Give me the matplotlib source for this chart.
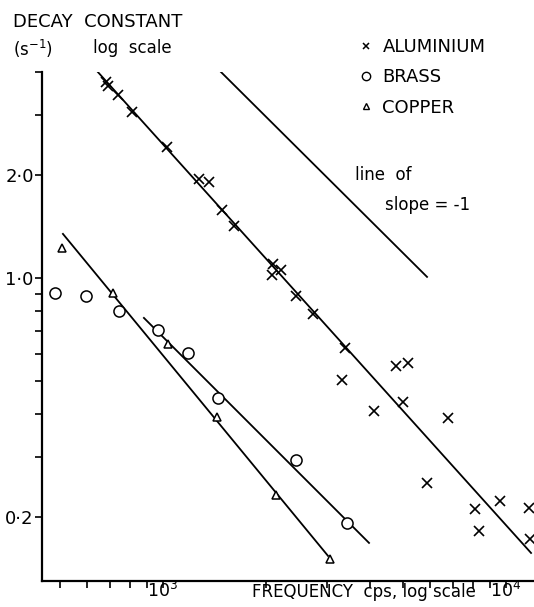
import matplotlib
matplotlib.use("Agg")
import matplotlib.pyplot as plt
from matplotlib.lines import Line2D

plt.rcParams['font.family'] = ['DejaVu Sans']

# ---- data (frequency in cps, decay constant in s^-1) ----
al_freq = [680, 690, 740, 810, 1030, 1270, 1360, 1490, 1610, 2090, 2210, 2080,
           2440, 2740, 3390, 3330, 4120, 4780, 5180, 5010, 5890, 6780, 8120,
           8340, 9600, 11700, 11750]
al_decay = [3.74, 3.64, 3.43, 3.06, 2.42, 1.95, 1.91, 1.58, 1.42, 1.10, 1.055, 1.02,
            0.886, 0.785, 0.624, 0.503, 0.409, 0.553, 0.564, 0.434, 0.252, 0.390, 0.211,
            0.182, 0.223, 0.213, 0.1725]

br_freq = [484, 596, 744, 967, 1183, 1447, 2442, 3439]
br_decay = [0.904, 0.886, 0.801, 0.705, 0.604, 0.446, 0.294, 0.192]

cu_freq = [508, 715, 1034, 1437, 2135, 3069]
cu_decay = [1.224, 0.904, 0.641, 0.392, 0.232, 0.151]

# fitted lines (end points)
al_fit_freq = [646, 11830]
al_fit_decay = [4.00, 0.157]
br_fit_freq = [880, 3987]
br_fit_decay = [0.764, 0.168]
cu_fit_freq = [511, 3027]
cu_fit_decay = [1.345, 0.154]
ref_freq = [1476, 5885]
ref_decay = [4.00, 1.007]

x_major = [1000, 10000]
x_major_labels = ['$\\mathregular{10^3}$', '$\\mathregular{10^4}$']
x_minor = [500, 600, 700, 800, 900, 2000, 3000, 4000, 5000, 6000, 7000, 8000, 9000]
y_major = [0.2, 1.0, 2.0]
y_major_labels = ['0·2', '1·0', '2·0']
y_minor = [0.3, 0.4, 0.5, 0.6, 0.7, 0.8, 0.9, 3.0, 4.0]

# ---- figure ----
W, H = 534, 607
fig = plt.figure(figsize=(W / 100, H / 100), dpi=100)
ax = fig.add_axes([42 / W, 26 / H, 492 / W, 509 / H])
ax.set_xscale('log')
ax.set_yscale('log')
ax.set_xlim(444, 12066)
ax.set_ylim(0.130, 4.0)

lw = 1.3
ax.plot(al_fit_freq, al_fit_decay, color='black', lw=lw)
ax.plot(br_fit_freq, br_fit_decay, color='black', lw=lw)
ax.plot(cu_fit_freq, cu_fit_decay, color='black', lw=lw)
ax.plot(ref_freq, ref_decay, color='black', lw=lw)

ax.plot(al_freq, al_decay, linestyle='none', marker='x', ms=7, mew=1.2,
        color='black', clip_on=False)
ax.plot(br_freq, br_decay, linestyle='none', marker='o', ms=8, mew=1.1,
        mfc='white', mec='black', clip_on=False)
ax.plot(cu_freq, cu_decay, linestyle='none', marker='^', ms=6, mew=1.1,
        mfc='white', mec='black', clip_on=False)

# spines
for s in ['top', 'right']:
    ax.spines[s].set_visible(False)
for s in ['left', 'bottom']:
    ax.spines[s].set_linewidth(1.6)

# ticks
ax.set_xticks(x_major, x_major_labels)
ax.set_xticks(x_minor, minor=True)
ax.set_xticklabels([], minor=True)
ax.set_yticks(y_major, y_major_labels)
ax.set_yticks(y_minor, minor=True)
ax.set_yticklabels([], minor=True)
ax.tick_params(axis='both', which='both', direction='out', length=5, width=1.2,
               colors='black', labelsize=13)
ax.tick_params(axis='x', which='major', pad=-5, labelsize=12.5)
ax.tick_params(axis='y', which='major', pad=1)

# legend
handles = [
    Line2D([], [], linestyle='none', marker='x', ms=5, mew=1.1, color='black'),
    Line2D([], [], linestyle='none', marker='o', ms=6, mew=1.0, mfc='white', mec='black'),
    Line2D([], [], linestyle='none', marker='^', ms=5, mew=1.0, mfc='white', mec='black'),
]
ax.legend(handles, ['ALUMINIUM', 'BRASS', 'COPPER'], loc='upper left',
          bbox_to_anchor=(359 / W, 1 - 38 / H), bbox_transform=fig.transFigure,
          frameon=False, fontsize=13, handlelength=0.8, handletextpad=0.5,
          labelspacing=0.68, borderpad=0, borderaxespad=0)

# texts
fig.text(13 / W, 1 - 22 / H, 'DECAY  CONSTANT', fontsize=13, ha='left', va='center')
fig.text(13 / W, 1 - 49 / H, '(s$^{-1}$)', fontsize=12, ha='left', va='center')
fig.text(93 / W, 1 - 48 / H, 'log  scale', fontsize=12, ha='left', va='center')
fig.text(355 / W, 1 - 175 / H, 'line  of', fontsize=12, ha='left', va='center')
fig.text(385 / W, 1 - 205 / H, 'slope = -1', fontsize=12, ha='left', va='center')
fig.text(252 / W, 1 - 592 / H, 'FREQUENCY  cps, log scale', fontsize=12,
         ha='left', va='center')

fig.savefig('out.png', dpi=100)
